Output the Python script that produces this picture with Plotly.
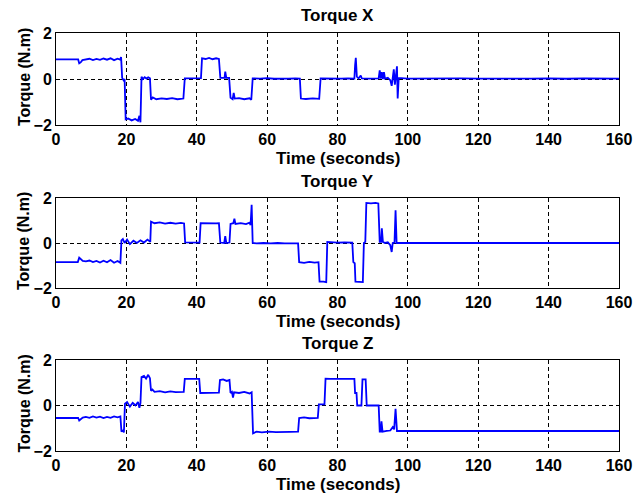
import plotly.graph_objects as go

# ---------------- data ----------------
t_x = [0, 6.3, 6.6, 7.0, 7.5, 8.5, 9.5, 10.5, 11.5, 12.5, 13.5, 14.5, 15.5, 16.5, 17.5, 18.2, 18.5, 18.8,
       19.2, 19.5, 19.8, 20.5, 21.5, 22.5, 23.3, 23.7, 24.0, 24.3, 24.7, 25.2, 25.7, 26.2, 26.7, 27.0, 27.5,
       28.5, 30, 31.5, 33, 34.5, 36.2, 36.6, 38.5, 40.5, 41.2, 41.5, 42.5, 43.5, 44.5, 45.5, 46.3, 46.7,
       47.5, 47.9, 48.1, 48.4, 49.2, 49.6, 50.2, 50.5, 50.8, 52, 53.5, 55.0, 55.5, 55.9, 58, 60, 62, 64,
       66, 68, 69.3, 69.6, 71, 73, 74.8, 75.2, 77, 79, 81, 83, 84.8, 85.0, 85.2, 85.5, 86.0, 86.6, 86.9,
       89, 91.7, 92.0, 92.3, 92.6, 92.9, 93.2, 93.5, 94.3, 95.0, 95.4, 95.7, 96.0, 96.3, 96.6, 96.9, 97.1,
       97.4, 100, 105, 110, 115, 120, 125, 130, 135, 140, 145, 150, 155, 160]
torque_x = [0.85, 0.85, 0.68, 0.72, 0.82, 0.84, 0.88, 0.82, 0.87, 0.83, 0.89, 0.84, 0.9, 0.82, 0.88, 0.84, 0.95, 0.05,
            -0.05, 0.0, -1.75, -1.72, -1.8, -1.74, -1.82, -1.6, -1.88, 0.1, 0.0, 0.08, 0.02, 0.07, 0.03, -0.9, -0.8,
            -0.88, -0.84, -0.87, -0.83, -0.88, -0.85, 0.03, 0.04, 0.03, 0.04, 0.9, 0.87, 0.92, 0.86, 0.9, 0.87, 0.05,
            0.06, 0.05, 0.32, 0.05, 0.05, -0.82, -0.88, -0.6, -0.85, -0.83, -0.88, -0.84, -0.9, 0.03, 0.02, 0.04, 0.01, 0.03,
            0.02, 0.03, 0.02, -0.85, -0.87, -0.84, -0.86, 0.03, 0.02, 0.04, 0.02, 0.03, 0.02, 0.6, 0.92, 0.1, 0.03, 0.15, 0.03,
            0.02, 0.03, 0.38, 0.02, 0.3, 0.0, 0.3, 0.02, 0.05, -0.05, -0.3, 0.0, 0.42, -0.25, 0.05, 0.55, -0.85,
            0.05, 0.02, 0.03, 0.01, 0.03, 0.02, 0.01, 0.03, 0.02, 0.03, 0.01, 0.03, 0.02, 0.02]

t_y = [0, 6.2, 6.6, 7.0, 7.6, 8.5, 9.5, 10.5, 11.5, 12.5, 13.5, 14.5, 15.5, 16.5, 17.5, 18.3, 18.6, 19.0, 19.5,
       20.2, 21, 22, 23, 24, 25, 26, 26.8, 27.0, 28, 29.5, 31, 32.5, 34, 35.5, 36.4, 36.7, 38, 39.5, 40.8, 41.1,
       42.5, 44, 45.5, 46.3, 46.7, 47.8, 48.1, 48.4, 49.3, 49.6, 50.4, 50.7, 51.0, 52.5, 54, 55.0, 55.3, 55.6,
       55.9, 57, 59, 61, 63, 65, 67, 68.8, 69.1, 70.5, 72, 73.5, 74.6, 74.9, 76, 76.8, 77.1, 78.5, 80, 82, 84.2,
       84.5, 84.9, 85.1, 86.5, 87.2, 87.5, 87.9, 88.2, 89.5, 90.8, 91.6, 92.0, 92.4, 92.6, 92.9, 93.5, 94.3,
       95.0, 95.4, 95.7, 96.2, 96.5, 96.8, 100, 160]
torque_y = [-0.85, -0.85, -0.65, -0.7, -0.8, -0.82, -0.78, -0.85, -0.8, -0.87, -0.79, -0.86, -0.76, -0.88, -0.8, -0.88, 0.12, 0.18, 0.0,
            0.15, -0.05, 0.1, 0.0, 0.12, 0.02, 0.15, 0.05, 0.95, 0.88, 0.92, 0.86, 0.9, 0.86, 0.89, 0.87, 0.03, 0.02, 0.03, 0.02, 0.88,
            0.87, 0.89, 0.87, 0.88, 0.02, 0.0, 0.3, 0.0, 0.02, 0.85, 0.88, 1.08, 0.85, 0.88, 0.84, 0.9, 0.8, 1.7,
            0.0, -0.02, 0.0, -0.02, 0.0, -0.02, -0.01, -0.02, -0.85, -0.88, -0.84, -0.87, -0.85, -1.72, -1.72, -1.74, 0.05, 0.03, 0.02, 0.03, 0.02,
            -0.85, -0.9, -1.72, -1.72, -1.74, 0.0, 0.05, 1.78, 1.76, 1.78, 1.76, 0.05, 0.05, 0.65, 0.05, 0.0, 0.03,
            -0.1, -0.4, 0.0, 0.02, 1.45, 0.0, 0.0, 0.0]

t_z = [0, 6.3, 6.6, 7.0, 7.6, 8.5, 9.5, 10.5, 11.5, 12.5, 13.5, 14.5, 15.5, 16.5, 17.5, 18.3, 18.6, 19.0, 19.3,
       19.6, 20.2, 21, 21.8, 22.6, 23.3, 23.7, 24.0, 24.3, 25, 25.6, 26.2, 26.7, 27.0, 27.4, 28, 29.5, 31, 32.5,
       34, 36.3, 36.6, 38, 40.7, 41.0, 42.5, 44, 46.3, 46.6, 47.5, 48.5, 49.3, 49.6, 50.0, 50.3, 50.6, 52,
       53.5, 55.0, 55.6, 56.0, 57, 58.5, 60.5, 62.5, 64.5, 66.5, 68.8, 69.1, 70.5, 72, 74.4, 74.7, 76.3, 76.6,
       78, 80, 82, 84.8, 85.0, 85.4, 85.6, 86.8, 87.1, 88.0, 88.3, 90, 91.7, 92.0, 92.3, 92.5, 92.8, 94, 95.0,
       95.7, 96.1, 96.5, 96.9, 100, 160]
torque_z = [-0.55, -0.55, -0.66, -0.6, -0.53, -0.5, -0.54, -0.48, -0.53, -0.49, -0.55, -0.5, -0.54, -0.48, -0.52, -0.48, -1.15, -1.1, -1.18,
            0.08, 0.15, -0.05, 0.12, 0.0, 0.15, -0.1, 0.1, 1.25, 1.3, 1.18, 1.35, 1.2, 0.65, 0.7, 0.6, 0.63, 0.58, 0.62,
            0.59, 0.6, 1.17, 1.17, 1.17, 0.55, 0.56, 0.55, 0.57, 1.12, 1.15, 1.08, 1.12, 0.55, 0.6, 0.35, 0.58, 0.55,
            0.6, 0.53, 0.58, -1.22, -1.15, -1.18, -1.15, -1.17, -1.15, -1.16, -1.15, -0.55, -0.52, -0.56, -0.54, 0.05, 0.05, 1.18,
            1.17, 1.18, 1.17, 1.17, 0.55, 0.55, 0.0, 0.0, 1.15, 1.15, 0.0, 0.0, 0.0, -1.15, -1.15, -0.7, -1.15, -1.12, -1.1,
            -0.95, -1.05, -0.15, -1.12, -1.12, -1.12]

titles = ["Torque X", "Torque Y", "Torque Z"]
x_label = "Time (seconds)"
y_label = "Torque (N.m)"
x_ticks = [0, 20, 40, 60, 80, 100, 120, 140, 160]
y_ticks = [-2, 0, 2]

series = [(t_x, torque_x), (t_y, torque_y), (t_z, torque_z)]

# ---------------- layout (pixel geometry) ----------------
W, H = 634, 496
X0, X1 = 56, 619
panels_px = [(33, 125), (198, 288), (360, 451)]  # (top, bottom)

def px_x(x):
    return x / W

def px_y(y):
    return 1 - y / H

FONT = "Liberation Sans, Arial, Helvetica, sans-serif"
fig = go.Figure()
annotations = []
for i, ((tt, vv), (top, bot)) in enumerate(zip(series, panels_px)):
    n = "" if i == 0 else str(i + 1)
    fig.add_trace(go.Scatter(x=tt, y=vv, mode="lines", xaxis="x" + n, yaxis="y" + n,
                             line=dict(color="#0000ff", width=1.8), showlegend=False,
                             hoverinfo="skip"))
    axis_common = dict(showline=True, mirror=True, linecolor="black", linewidth=1,
                       showgrid=True, gridcolor="black", gridwidth=0.8, griddash="4px,3px",
                       zeroline=False, ticks="", automargin=False,
                       tickfont=dict(family=FONT, size=16, color="black", weight="bold"))
    fig.update_layout({
        "xaxis" + n: dict(axis_common, domain=[px_x(X0), px_x(X1)], range=[0, 160],
                          tickmode="array", tickvals=x_ticks, anchor="y" + n),
        "yaxis" + n: dict(axis_common, domain=[px_y(bot), px_y(top)], range=[-2, 2],
                          tickmode="array", tickvals=y_ticks, anchor="x" + n),
    })
    annotations.append(dict(text="<b>%s</b>" % titles[i], x=px_x((X0 + X1) / 2), y=px_y(top - 17),
                            xref="paper", yref="paper", showarrow=False, xanchor="center", yanchor="middle",
                            font=dict(family=FONT, size=17, color="black")))
    annotations.append(dict(text="<b>%s</b>" % x_label, x=px_x((X0 + X1) / 2), y=px_y(bot + 33),
                            xref="paper", yref="paper", showarrow=False, xanchor="center", yanchor="middle",
                            font=dict(family=FONT, size=17, color="black")))
    annotations.append(dict(text="<b>%s</b>" % y_label, x=px_x(24), y=px_y((top + bot) / 2 - 2),
                            xref="paper", yref="paper", showarrow=False, xanchor="center", yanchor="middle",
                            textangle=-90, font=dict(family=FONT, size=16, color="black")))

fig.update_layout(width=W, height=H, margin=dict(l=0, r=0, t=0, b=0),
                  paper_bgcolor="white", plot_bgcolor="white", annotations=annotations)
fig.write_html("out.html")
